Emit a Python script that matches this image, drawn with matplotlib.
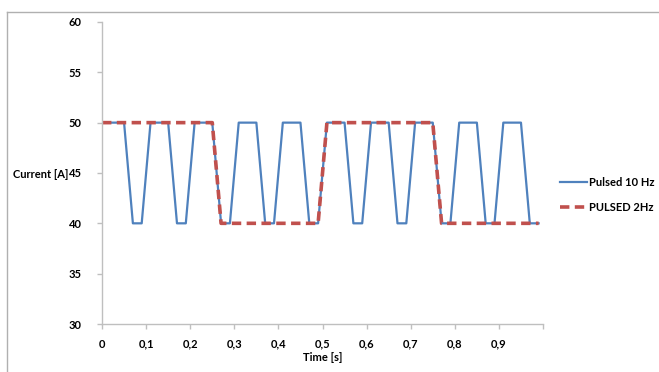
import matplotlib
matplotlib.use("Agg")
import matplotlib.pyplot as plt
from matplotlib.lines import Line2D

# Pulsed 10 Hz signal (time in s, current in A)
blue_t = [0, 0.05, 0.07, 0.09, 0.11, 0.15, 0.17, 0.19, 0.21, 0.25, 0.27, 0.29,
          0.31, 0.35, 0.37, 0.39, 0.41, 0.45, 0.47, 0.49, 0.51, 0.55, 0.57, 0.59,
          0.61, 0.65, 0.67, 0.69, 0.71, 0.75, 0.77, 0.79, 0.81, 0.85, 0.87, 0.89,
          0.91, 0.95, 0.97, 0.99]
blue_i = [50, 50, 40, 40, 50, 50, 40, 40, 50, 50, 40, 40,
          50, 50, 40, 40, 50, 50, 40, 40, 50, 50, 40, 40,
          50, 50, 40, 40, 50, 50, 40, 40, 50, 50, 40, 40,
          50, 50, 40, 40]

# Pulsed 2 Hz signal
red_t = [0, 0.25, 0.27, 0.49, 0.51, 0.75, 0.77, 0.99]
red_i = [50, 50, 40, 40, 50, 50, 40, 40]

x_ticks = [0, 0.1, 0.2, 0.3, 0.4, 0.5, 0.6, 0.7, 0.8, 0.9, 1.0]
x_labels = ["0", "0,1", "0,2", "0,3", "0,4", "0,5", "0,6", "0,7", "0,8", "0,9", ""]
y_ticks = [30, 35, 40, 45, 50, 55, 60]

plt.rcParams["font.family"] = ["Lato", "DejaVu Sans"]

fig = plt.figure(figsize=(6.59, 3.72), dpi=100)
ax = fig.add_axes([0.1548, 0.129, 0.6692, 0.812])

ax.plot(blue_t, blue_i, color="#4F81BD", lw=1.6, label="Pulsed 10 Hz")
ax.plot(red_t, red_i, color="#C0504D", lw=2.6, dashes=(2.6, 1.5), label="PULSED 2Hz")

ax.set_xlim(0, 1.0)
ax.set_ylim(30, 60)
ax.set_xticks(x_ticks)
ax.set_xticklabels(x_labels)
ax.set_yticks(y_ticks)

for s in ["top", "right"]:
    ax.spines[s].set_visible(False)
for s in ["left", "bottom"]:
    ax.spines[s].set_color("#BFBFBF")
    ax.spines[s].set_linewidth(1.0)
ax.tick_params(axis="both", colors="#BFBFBF", labelcolor="black", length=3.5,
               width=1.0, labelsize=8)
ax.tick_params(axis="x", pad=7)
ax.tick_params(axis="y", pad=11)
for lbl in ax.get_xticklabels() + ax.get_yticklabels():
    lbl.set_fontweight("bold")

ax.set_xlabel("Time [s]", fontsize=8, fontweight="bold", labelpad=2)
fig.text(0.103, 1 - 174 / 372, "Current [A]", fontsize=8, fontweight="bold",
         ha="right", va="center")

ax.legend(loc="center left", bbox_to_anchor=(1.015, 0.427), frameon=False,
          handlelength=2.5, labelspacing=1.3, handletextpad=0.15,
          prop={"weight": "bold", "size": 8})

# chart border (top and left edges only visible)
fig.add_artist(Line2D([7 / 659, 1.0], [1 - 12 / 372, 1 - 12 / 372],
                      transform=fig.transFigure, color="#B0B0B0", lw=1.0))
fig.add_artist(Line2D([7 / 659, 7 / 659], [0, 1 - 12 / 372],
                      transform=fig.transFigure, color="#B0B0B0", lw=1.0))

fig.savefig("out.png", dpi=100)
